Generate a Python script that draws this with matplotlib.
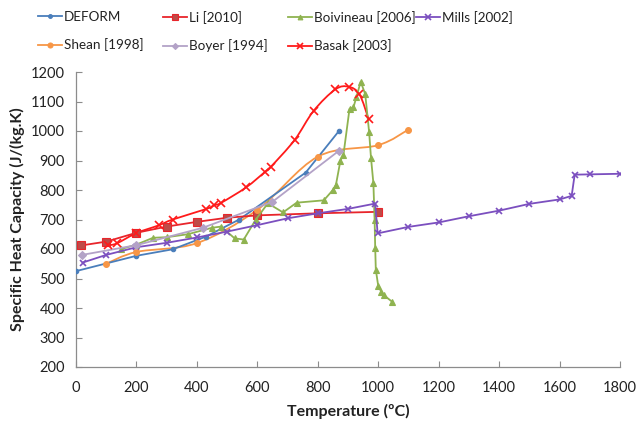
import numpy as np
import matplotlib
matplotlib.use("Agg")
import matplotlib.pyplot as plt
from matplotlib.path import Path
from matplotlib.patches import PathPatch
from matplotlib.lines import Line2D

plt.rcParams['font.family'] = ['Lato', 'DejaVu Sans']

# ---------------- data ----------------
deform_x = [0, 200, 320, 430, 540, 760, 870]
deform_y = [525, 577, 599, 642, 700, 859, 1000]

li_x = [17, 100, 200, 300, 400, 500, 600, 800, 1000]
li_y = [612, 625, 655, 676, 692, 706, 714, 721, 726]

boiv_x = [150, 200, 255, 300, 370, 450, 480, 525, 555, 595, 635, 685, 730, 820,
          850, 860, 875, 885, 905, 918, 928, 942, 957, 970, 976, 984, 988, 990,
          992, 1000, 1010, 1018, 1045]
boiv_y = [600, 615, 638, 640, 650, 672, 676, 636, 632, 700, 755, 724, 757, 765,
          800, 817, 900, 920, 1075, 1080, 1116, 1167, 1125, 995, 910, 823, 700, 605,
          530, 475, 455, 444, 422]

mills_x = [22, 100, 200, 300, 400, 500, 600, 700, 800, 900, 990, 998, 1100, 1200,
           1300, 1400, 1500, 1600, 1640, 1650, 1700, 1800]
mills_y = [554, 580, 606, 621, 639, 659, 681, 704, 721, 736, 754, 653, 675, 690,
           711, 730, 753, 768, 780, 852, 853, 855]

shean_x = [100, 200, 400, 600, 800, 1000, 1100]
shean_y = [550, 590, 620, 733, 913, 952, 1005]

boyer_x = [20, 200, 420, 650, 870]
boyer_y = [580, 613, 672, 760, 933]

basak_x = [107, 135, 200, 273, 320, 429, 457, 481, 563, 626, 645, 723, 786, 858,
           902, 938, 968]
basak_y = [613, 619, 654, 680, 700, 735, 748, 757, 809, 862, 879, 969, 1068, 1141,
           1150, 1124, 1041]

x_ticks = [0, 200, 400, 600, 800, 1000, 1200, 1400, 1600, 1800]
y_ticks = [200, 300, 400, 500, 600, 700, 800, 900, 1000, 1100, 1200]

# ---------------- figure ----------------
fig = plt.figure(figsize=(6.36, 4.21), dpi=100)
ax = fig.add_axes([76/636, 54/421, (620-76)/636, (367-72)/421])


def smooth_path(xs, ys, t=0.5):
    pts = np.column_stack([xs, ys]).astype(float)
    n = len(pts)
    verts = [pts[0]]
    codes = [Path.MOVETO]
    for i in range(n - 1):
        p0 = pts[i - 1] if i > 0 else pts[i]
        p1 = pts[i]
        p2 = pts[i + 1]
        p3 = pts[i + 2] if i + 2 < n else pts[i + 1]
        c1 = p1 + (p2 - p0) * t / 3.0
        c2 = p2 - (p3 - p1) * t / 3.0
        verts += [c1, c2, p2]
        codes += [Path.CURVE4] * 3
    return Path(verts, codes)


series = [
    # label, x, y, color, marker, ms, mfc, mec, smooth
    ("DEFORM", deform_x, deform_y, "#4A7EBB", "o", 3.2, "#4A7EBB", "#4A7EBB", False),
    ("Li [2010]", li_x, li_y, "#E8252B", "s", 5.2, "#BE4B48", "#E8252B", False),
    ("Boivineau [2006]", boiv_x, boiv_y, "#8FB350", "^", 4.0, "#8FB350", "#8FB350", False),
    ("Mills [2002]", mills_x, mills_y, "#7B4FBF", "x", 4.6, "#7B4FBF", "#7B4FBF", False),
    ("Shean [1998]", shean_x, shean_y, "#F79646", "o", 4.2, "#F79646", "#F79646", True),
    ("Boyer [1994]", boyer_x, boyer_y, "#B3A2C7", "D", 3.6, "#B3A2C7", "#B3A2C7", False),
    ("Basak [2003]", basak_x, basak_y, "#FF1A1A", "x", 5.2, "#FF1A1A", "#FF1A1A", True),
]

handles = {}
lw = 1.3
for label, xs, ys, col, mk, ms, mfc, mec, sm in series:
    mew = 1.2 if mk == 'x' else 0.8
    if sm:
        patch = PathPatch(smooth_path(xs, ys), fill=False, edgecolor=col, lw=lw,
                          transform=ax.transData, zorder=2)
        ax.add_patch(patch)
        ax.plot(xs, ys, linestyle='none', marker=mk, ms=ms, mfc=mfc, mec=mec,
                mew=mew, zorder=3)
    else:
        ax.plot(xs, ys, color=col, lw=lw, marker=mk, ms=ms, mfc=mfc, mec=mec,
                mew=mew, zorder=3)
    handles[label] = Line2D([], [], color=col, lw=lw, marker=mk, ms=ms * 0.85,
                            mfc=mfc, mec=mec, mew=mew)

ax.set_xlim(0, 1800)
ax.set_ylim(200, 1200)
ax.set_xticks(x_ticks)
ax.set_yticks(y_ticks)
for s in ['top', 'right']:
    ax.spines[s].set_visible(False)
for s in ['left', 'bottom']:
    ax.spines[s].set_color('#8C8C8C')
    ax.spines[s].set_linewidth(0.9)
ax.tick_params(axis='both', direction='in', length=4, color='#8C8C8C',
               labelsize=10.5, labelcolor='#222222')
ax.tick_params(axis='y', pad=8)
ax.tick_params(axis='x', pad=10)

ax.set_xlabel("Temperature (ºC)", fontsize=11.5, fontweight='bold', color='#222222')
ax.set_ylabel("Specific Heat Capacity (J/(kg.K)", fontsize=11.5, fontweight='bold',
              color='#222222')
ax.xaxis.set_label_coords(0.5, -0.125)
ax.yaxis.set_label_coords(-0.093, 0.5)

# legend: 4 columns, row-wise order like the reference
cols = [["DEFORM", "Shean [1998]"], ["Li [2010]", "Boyer [1994]"],
        ["Boivineau [2006]", "Basak [2003]"], ["Mills [2002]"]]
col_x = [38, 163, 288, 416]
for x0, labs in zip(col_x, cols):
    fig.legend([handles[l] for l in labs], labs, loc='upper left',
               bbox_to_anchor=(x0 / 636, 1 - 11 / 421), frameon=False, borderpad=0,
               borderaxespad=0, handlelength=1.8, handletextpad=0.12,
               labelspacing=1.15, fontsize=9.7, labelcolor='#222222')

fig.savefig("out.png", dpi=100)
